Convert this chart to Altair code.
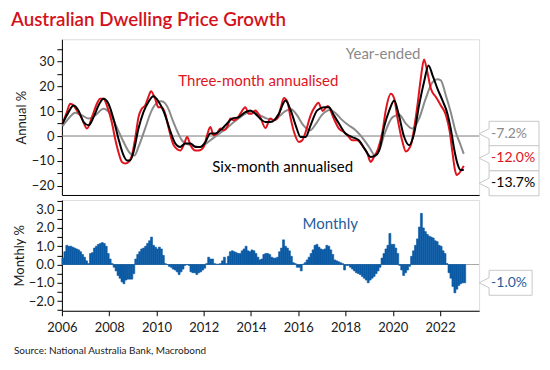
import altair as alt
import pandas as pd

FONT = "Lato"
RED = "#e0141e"
BLACK = "#000000"
GREY = "#8a8a8a"
BLUE = "#0b5aa5"
TITLE_RED = "#d3121c"

title_text = "Australian Dwelling Price Growth"
source_text = "Source: National Australia Bank, Macrobond"

# (decimal year, annual %)
three_month = [(2006.03, 5), (2006.21, 9.6), (2006.35, 13), (2006.49, 12.3), (2006.63, 10.3), (2006.85, 7),
               (2007.06, 3), (2007.27, 7.6), (2007.48, 13), (2007.62, 15), (2007.76, 15), (2007.90, 12.3),
               (2008.11, 5.6), (2008.25, -1), (2008.39, -6.4), (2008.54, -10.4), (2008.68, -11), (2008.82, -10.4),
               (2008.96, -7.8), (2009.10, -1), (2009.24, 7.6), (2009.38, 11), (2009.52, 12.3), (2009.66, 15.7),
               (2009.77, 18), (2009.94, 15), (2010.08, 11.6), (2010.23, 11.6), (2010.37, 9), (2010.52, 3),
               (2010.73, -3.7), (2011.01, -5.8), (2011.15, -3.7), (2011.30, -0.4), (2011.44, -3.7), (2011.65, -5.8),
               (2011.79, -5.8), (2012.00, -4.4), (2012.14, 0.3), (2012.28, 3.6), (2012.42, 0.3), (2012.56, 1),
               (2012.70, 3), (2012.85, 2.3), (2012.99, 3.6), (2013.13, 7), (2013.27, 6.3), (2013.41, 7),
               (2013.55, 9), (2013.76, 11.6), (2013.90, 9), (2014.04, 9), (2014.18, 10.3), (2014.39, 7.6),
               (2014.61, 3.2), (2014.82, 7), (2014.96, 6.3), (2015.11, 7), (2015.25, 11), (2015.39, 15.3),
               (2015.54, 13.7), (2015.68, 7), (2015.82, 1.6), (2016.03, -2.4), (2016.17, -1.7), (2016.31, 1.6),
               (2016.52, 8.3), (2016.72, 12), (2016.85, 13.4), (2017.03, 10.1), (2017.25, 12.1), (2017.50, 7),
               (2017.72, 3), (2017.93, 1.6), (2018.14, -0.4), (2018.28, -1.7), (2018.49, -1.7), (2018.70, -3.7),
               (2018.92, -7), (2019.06, -10.4), (2019.20, -8.4), (2019.38, -5), (2019.56, 1.6), (2019.70, 10.3),
               (2019.92, 17), (2020.06, 15), (2020.20, 7), (2020.41, -2.4), (2020.55, -6.2), (2020.76, -3.7),
               (2020.90, 3), (2021.04, 12.3), (2021.18, 23), (2021.32, 30.8), (2021.46, 25.7), (2021.61, 19),
               (2021.82, 15.7), (2022.03, 12.3), (2022.25, 8.3), (2022.41, 1.6), (2022.52, -6.4), (2022.63, -13.7),
               (2022.70, -15.7), (2022.80, -15), (2023.00, -12.0)]

six_month = [(2006.03, 5), (2006.28, 9.6), (2006.49, 12.3), (2006.70, 10.3), (2006.92, 5.6), (2007.13, 4.3),
             (2007.34, 7.6), (2007.55, 12.3), (2007.76, 15), (2007.97, 13), (2008.18, 7), (2008.39, -1),
             (2008.61, -7.8), (2008.75, -9.8), (2008.89, -9.8), (2009.03, -6.4), (2009.24, 3), (2009.45, 9.6),
             (2009.66, 13.7), (2009.87, 16), (2010.08, 14), (2010.30, 10), (2010.45, 6), (2010.60, 1.6),
             (2010.80, -3), (2011.00, -4.4), (2011.22, -3), (2011.44, -3), (2011.65, -4.4), (2011.86, -4.4),
             (2012.07, -2.4), (2012.28, 1), (2012.49, 1), (2012.70, 2.3), (2012.92, 4.3), (2013.20, 7),
             (2013.48, 7.6), (2013.76, 9.6), (2013.97, 10.3), (2014.18, 9), (2014.39, 7), (2014.61, 5.6),
             (2014.82, 5.6), (2015.00, 6.5), (2015.18, 9), (2015.46, 14.3), (2015.68, 10.3), (2015.89, 4.3),
             (2016.10, -0.4), (2016.31, -0.4), (2016.52, 4.3), (2016.80, 10.3), (2017.08, 11.6), (2017.29, 11.6),
             (2017.51, 8.3), (2017.72, 5), (2018.00, 1), (2018.28, -0.4), (2018.56, -1.7), (2018.85, -5.8),
             (2019.06, -8.4), (2019.27, -7.8), (2019.45, -5), (2019.63, 3.6), (2019.85, 10.3), (2020.06, 14.3),
             (2020.24, 9), (2020.48, -0.4), (2020.69, -3.7), (2020.90, 1), (2021.11, 12.3), (2021.32, 21.7),
             (2021.51, 28.4), (2021.68, 24.4), (2021.89, 19), (2022.10, 14.3), (2022.31, 9), (2022.45, 3),
             (2022.59, -5), (2022.73, -11), (2022.87, -13.7), (2023.00, -13.7)]

year_ended = [(2006.03, 4), (2006.28, 7), (2006.56, 9.4), (2006.85, 8.3), (2007.13, 7), (2007.41, 8.3),
              (2007.76, 11), (2008.04, 9), (2008.32, 3.6), (2008.61, -2.4), (2008.89, -7), (2009.07, -7.8),
              (2009.24, -4.4), (2009.52, 3), (2009.80, 10.3), (2010.08, 13.7), (2010.22, 14), (2010.36, 13.2),
              (2010.50, 11), (2010.70, 6), (2010.90, 1.5), (2011.10, -2), (2011.30, -3.2), (2011.51, -3.7),
              (2011.79, -4.4), (2012.00, -3.7), (2012.28, -1.7), (2012.56, 0.3), (2012.85, 2.3), (2013.20, 5),
              (2013.55, 7.6), (2013.90, 9.6), (2014.11, 9.9), (2014.39, 8.3), (2014.68, 7), (2015.00, 6.5),
              (2015.20, 8), (2015.45, 10), (2015.70, 10.8), (2015.95, 8.3), (2016.20, 4.5), (2016.50, 2.3),
              (2016.75, 5), (2017.00, 8.5), (2017.35, 10.5), (2017.60, 9), (2017.85, 6.5), (2018.10, 4.5),
              (2018.40, 2.5), (2018.70, -0.5), (2019.00, -4.5), (2019.25, -7.8), (2019.45, -5), (2019.63, 0.3),
              (2019.99, 7.6), (2020.27, 8.6), (2020.55, 5), (2020.83, 3), (2021.11, 7), (2021.39, 15),
              (2021.68, 21.7), (2021.89, 22.8), (2022.03, 22.4), (2022.24, 16.4), (2022.45, 9.6), (2022.66, 1.6),
              (2022.87, -3.7), (2023.00, -7.2)]

# monthly % change, Jan 2006 .. Jan 2023
monthly = {
    2006: [0.35, 0.7, 1.05, 1.0, 1.0, 0.95, 0.9, 0.85, 0.8, 0.7, 0.55, 0.4],
    2007: [0.2, 0.05, 0.6, 0.65, 0.9, 1.0, 1.1, 1.15, 1.2, 1.15, 1.0, 0.6],
    2008: [0.3, 0.05, -0.15, -0.35, -0.6, -0.75, -0.95, -1.05, -0.85, -0.8, -0.8, -0.8],
    2009: [-0.5, 0.3, 0.55, 0.7, 0.85, 0.9, 1.0, 1.15, 1.3, 1.5, 1.05, 0.95],
    2010: [0.85, 0.95, 0.85, 0.5, 0.05, 0.0, -0.1, -0.15, -0.25, -0.3, -0.4, -0.55],
    2011: [-0.4, -0.25, -0.05, 0.0, -0.05, -0.4, -0.45, -0.45, -0.55, -0.45, -0.4, -0.3],
    2012: [-0.2, 0.05, 0.4, 0.3, 0.3, 0.05, 0.02, 0.02, 0.05, 0.2, 0.4, 0.05],
    2013: [0.45, 0.7, 0.75, 0.7, 0.65, 0.6, 0.6, 0.75, 0.85, 1.0, 0.75, 0.7],
    2014: [0.8, 0.75, 0.6, 0.4, 0.25, 0.3, 0.55, 0.6, 0.6, 0.55, 0.4, 0.35],
    2015: [0.35, 0.4, 0.7, 0.9, 1.35, 1.0, 0.9, 0.75, 0.45, 0.1, 0.05, -0.15],
    2016: [-0.15, -0.35, 0.02, 0.1, 0.25, 0.4, 0.6, 0.8, 1.05, 1.1, 0.95, 0.85],
    2017: [0.8, 0.85, 1.05, 1.0, 0.8, 0.55, 0.25, 0.2, 0.15, 0.1, 0.05, -0.3],
    2018: [-0.05, -0.05, -0.15, -0.25, -0.35, -0.45, -0.5, -0.55, -0.65, -0.75, -0.85, -1.0],
    2019: [-0.85, -0.75, -0.65, -0.5, -0.35, -0.15, 0.35, 0.6, 0.85, 1.05, 1.7, 1.1],
    2020: [1.1, 0.9, 0.6, -0.05, -0.3, -0.6, -0.45, -0.3, -0.1, 0.45, 0.75, 1.05],
    2021: [1.4, 2.05, 2.8, 2.0, 1.8, 1.65, 1.55, 1.5, 1.45, 1.3, 1.25, 1.05],
    2022: [1.0, 0.75, 0.6, 0.05, -0.45, -0.75, -1.2, -1.55, -1.35, -1.15, -1.05, -1.0],
    2023: [-1.0],
}

x_ticks = list(range(2006, 2023, 2))
top_ticks = list(range(-20, 40, 5))
bot_ticks = [x / 2 for x in range(-5, 8)]

series_names = ["Year-ended", "Three-month annualised", "Six-month annualised"]
series_pts = [year_ended, three_month, six_month]
series_colors = [GREY, RED, BLACK]

# ---------- data frames ----------
rows = []
for name, pts in zip(series_names, series_pts):
    for t, v in pts:
        rows.append({"series": name, "t": t, "v": v})
lines_df = pd.DataFrame(rows)

bar_rows = []
for yr, vals in monthly.items():
    for i, v in enumerate(vals):
        bar_rows.append({"t0": yr + i / 12, "t1": yr + (i + 1) / 12, "v": v})
bars_df = pd.DataFrame(bar_rows)

# series labels placed on the plot
label_df = pd.DataFrame({
    "text": ["Three-month annualised", "Six-month annualised", "Year-ended"],
    "t": [2014.31, 2015.34, 2019.59],
    "v": [22.2, -12.3, 33.0],
    "color": [RED, BLACK, GREY],
})

# end-value callouts (last values of each series); v = vertical slot of the box
last_vals = [year_ended[-1][1], three_month[-1][1], six_month[-1][1]]
callout_df = pd.DataFrame({
    "text": [f"{v:.1f}%" for v in last_vals],
    "v": [0.9, -8.9, -19.0],
    "color": [GREY, RED, BLACK],
})
last_month = monthly[2023][-1]
mcallout_df = pd.DataFrame({"text": [f"{last_month:.1f}%"], "v": [last_month]})

W = 418
H_TOP = 156
H_BOT = 111

xs = alt.Scale(domain=[2006, 2023.65], nice=False, zero=False)
ys_top = alt.Scale(domain=[-23.7, 38.9], nice=False, zero=False)
ys_bot = alt.Scale(domain=[-2.53, 3.53], nice=False, zero=False)

common_axis = dict(grid=False, domainColor="black", tickColor="black", labelFontSize=13,
                   labelColor="#1a1a1a", labelFont=FONT, titleFont=FONT, titleFontSize=13,
                   titleFontWeight="normal", titleColor="#1a1a1a", labelOverlap=False,
                   labelFlush=False, labelBound=False)

y_top = alt.Y("v:Q", scale=ys_top, axis=alt.Axis(
    values=top_ticks, labelExpr="datum.value % 10 === 0 ? format(datum.value, 'd') : ''",
    title="Annual %", tickSize=5, labelPadding=3, titlePadding=3, **common_axis))
x_top = alt.X("t:Q", scale=xs, axis=alt.Axis(labels=False, ticks=False, title=None,
                                            grid=False, domainColor="black"))

zero_top = alt.Chart(pd.DataFrame({"v": [0]})).mark_rule(color="#7a7a7a", strokeWidth=1).encode(y=y_top)

lines = alt.Chart(lines_df).mark_line(strokeWidth=2, interpolate="monotone").encode(
    x=x_top, y=y_top,
    color=alt.Color("series:N", scale=alt.Scale(domain=series_names, range=series_colors), legend=None),
    order=alt.Order("t:Q"),
)

labels = alt.Chart(label_df).mark_text(font=FONT, fontSize=15, align="center", baseline="middle").encode(
    x=x_top, y=y_top, text="text:N", color=alt.Color("color:N", scale=None))

SHAPE_TOP = "M-1,0L-0.667,-0.167L-0.667,-0.417L1,-0.417L1,0.417L-0.667,0.417L-0.667,0.167Z"
SHAPE_BOT = "M-1,0L-0.667,-0.167L-0.667,-0.417L0.77,-0.417L0.77,0.417L-0.667,0.417L-0.667,0.167Z"

boxes = alt.Chart(callout_df).mark_point(shape=SHAPE_TOP, size=3600, filled=True, fill="white",
                                        stroke="#c8c8c8", strokeWidth=1, opacity=1).encode(
    x=alt.value(W + 30), y=y_top)
box_text = alt.Chart(callout_df).mark_text(font=FONT, fontSize=14, align="left", baseline="middle").encode(
    x=alt.value(W + 12), y=y_top, text="text:N", color=alt.Color("color:N", scale=None))

title_mark = alt.Chart(pd.DataFrame({"text": [title_text]})).mark_text(
    font="Lato", fontSize=18.8, fontWeight=600, color=TITLE_RED, align="left", baseline="top").encode(
    x=alt.value(-51), y=alt.value(-28.3), text="text:N")

top = alt.layer(zero_top, lines, labels, boxes, box_text, title_mark).properties(width=W, height=H_TOP)

# ---------- bottom panel ----------
y_bot = alt.Y("v:Q", scale=ys_bot, axis=alt.Axis(
    values=bot_ticks, labelExpr="datum.value % 1 === 0 ? format(datum.value, '.1f') : ''",
    title="Monthly %", tickSize=5, labelPadding=3, titlePadding=2, **common_axis))
x_bot = alt.X("t0:Q", scale=xs, axis=alt.Axis(values=x_ticks, format="d", title=None, tickSize=5,
                                             labelPadding=6, **common_axis))

zero_bot = alt.Chart(pd.DataFrame({"v": [0]})).mark_rule(color="#a8a8a8", strokeWidth=1).encode(y=y_bot)
bars = alt.Chart(bars_df).mark_bar(color=BLUE, stroke=BLUE, strokeWidth=0.6).encode(
    x=x_bot, x2="t1:Q", y=y_bot, y2=alt.datum(0))

mlabel = alt.Chart(pd.DataFrame({"text": ["Monthly"], "t0": [2017.35], "v": [2.24]})).mark_text(
    font=FONT, fontSize=15, color="#1f5d9c", align="center", baseline="middle").encode(
    x=x_bot, y=y_bot, text="text:N")

mbox = alt.Chart(mcallout_df).mark_point(shape=SHAPE_BOT, size=3600, filled=True, fill="white",
                                        stroke="#c8c8c8", strokeWidth=1, opacity=1).encode(
    x=alt.value(W + 30), y=y_bot)
mbox_text = alt.Chart(mcallout_df).mark_text(font=FONT, fontSize=14, align="left", baseline="middle",
                                             color="#1f5d9c").encode(
    x=alt.value(W + 12), y=y_bot, text="text:N")

source = alt.Chart(pd.DataFrame({"text": [source_text]})).mark_text(
    font=FONT, fontSize=10, color="#1a1a1a", align="left", baseline="middle").encode(
    x=alt.value(-48), y=alt.value(151), text="text:N")

bottom = alt.layer(zero_bot, bars, mlabel, mbox, mbox_text, source).properties(width=W, height=H_BOT)

chart = alt.vconcat(top, bottom, spacing=5, bounds="flush").properties(
    padding={"left": 2, "top": 2, "right": 0, "bottom": 0}
).configure_view(stroke=None).configure(font=FONT)

chart.save("out.html", embed_options={"renderer": "svg", "actions": False})
